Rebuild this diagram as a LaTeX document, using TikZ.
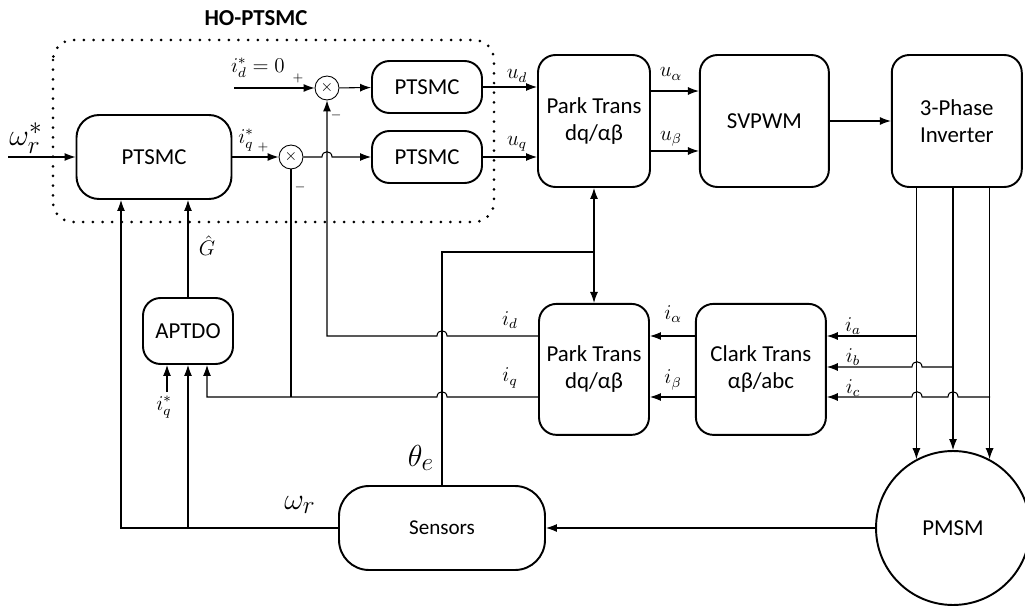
\documentclass[tikz,border=0pt]{standalone}
\usepackage[no-math]{fontspec}
\usepackage{amsmath}
\newfontfamily\boxfont{Carlito}
\usetikzlibrary{positioning,arrows.meta}

\begin{document}
\begin{tikzpicture}[x=0.02cm, y=-0.02cm, line width=0.6pt, >={Latex[length=2.2mm,width=1.6mm]},
        blk/.style={draw, line width=1.1pt, rounded corners=0.35cm, align=center, inner sep=0pt,
            font=\boxfont\fontsize{13}{15.5}\selectfont},
        sum/.style={draw, circle, line width=0.5pt, minimum size=0.48cm, inner sep=0pt, font=\small},
        lbl/.style={font=\fontsize{11.5}{13}\selectfont},
        sgn/.style={font=\scriptsize},
        big/.style={font=\fontsize{19}{21}\selectfont}]
    \useasboundingbox (0,0) rectangle (1025,608);
    \draw[line width=1.7pt, dash pattern=on 0pt off 5.5pt, line cap=round, rounded corners=0.4cm] (53,40) rectangle (494,222);
    \node[font=\boxfont\bfseries\fontsize{13}{15}\selectfont] (ho) at (256,18) {HO-PTSMC};

    \node[blk, minimum width=3.1cm, minimum height=1.68cm, rounded corners=0.45cm] (spd) at (154,157) {PTSMC};
    \node[blk, minimum width=2.2cm, minimum height=1.04cm] (cd) at (427,87) {PTSMC};
    \node[blk, minimum width=2.2cm, minimum height=1.04cm] (cq) at (427,157) {PTSMC};
    \node[sum] (sd) at (327,88) {$\times$};
    \node[sum] (sq) at (291,157) {$\times$};
    \node[blk, minimum width=2.24cm, minimum height=2.64cm] (parka) at (594,121) {Park Trans\\dq/αβ};
    \node[blk, minimum width=2.58cm, minimum height=2.64cm, right=0.96cm of parka] (svpwm) {SVPWM};
    \node[blk, minimum width=2.6cm, minimum height=2.64cm, right=1.22cm of svpwm] (inv) {3-Phase\\Inverter};
    \node[blk, minimum width=2.2cm, minimum height=2.62cm, below=2.3cm of parka] (parkb) {Park Trans\\dq/αβ};
    \node[blk, minimum width=2.6cm, minimum height=2.62cm, right=0.9cm of parkb] (clark) {Clark Trans\\αβ/abc};
    \node[blk, minimum width=1.8cm, minimum height=1.32cm] (obs) at (188,331) {APTDO};
    \node[blk, minimum width=4.12cm, minimum height=1.68cm, rounded corners=0.6cm,
        font=\boxfont\fontsize{12}{14}\selectfont] (sen) at (442,528) {Sensors};
    \node[blk, circle, minimum size=3.08cm] (pmsm) at (953,528) {PMSM};

    \coordinate (win) at (8,157);
    \draw[->] (win) -- (spd);
    \node[big] (lwref) at (26,138) {$\omega_r^*$};
    \draw[->] (spd) -- (sq);
    \node[lbl] (liq) at (246,140) {$i_q^*$};
    \node[sgn] (pq) at (263,147) {$+$};
    \node[sgn] (mq) at (300,187) {$-$};
    \coordinate (idin) at (234,88);
    \draw[->] (idin) -- (sd);
    \node[lbl] (lid) at (258,68) {$i_d^*=0$};
    \node[sgn] (pd) at (298,78) {$+$};
    \node[sgn] (md) at (336,115) {$-$};
    \draw[->] (sd) -- (cd);
    \draw[->] (sq) -- (322,157) .. controls (322,150) and (332,150) .. (332,157) -- (cq);

    \draw[->] (cd) -- (cd -| parka.west);
    \draw[->] (cq) -- (cq -| parka.west);
    \node[lbl] (lud) at (517,76) {$u_d$};
    \node[lbl] (luq) at (517,144) {$u_q$};
    \draw[->] ([yshift=6mm]parka.east) -- ([yshift=6mm]svpwm.west);
    \draw[->] ([yshift=-6mm]parka.east) -- ([yshift=-6mm]svpwm.west);
    \node[lbl] (lua) at (671,74) {$u_\alpha$};
    \node[lbl] (lub) at (671,139) {$u_\beta$};
    \draw[->] (svpwm) -- (inv);
    \foreach \a in {118,90,62}
        \draw[->] (inv.south -| pmsm.\a) -- (pmsm.\a);

    \coordinate (ta) at (917,336);
    \coordinate (tb) at (953,367);
    \coordinate (tc) at (990,397);
    \draw[->] (ta) -- (ta -| clark.east);
    \draw[->] (tb) -- (922,367) .. controls (922,360) and (912,360) .. (912,367) -- (tb -| clark.east);
    \draw[->] (tc) -- (958,397) .. controls (958,390) and (948,390) .. (948,397)
        -- (922,397) .. controls (922,390) and (912,390) .. (912,397) -- (tc -| clark.east);
    \node[lbl] (lia) at (853,326) {$i_a$};
    \node[lbl] (lib) at (853,357) {$i_b$};
    \node[lbl] (lic) at (853,388) {$i_c$};
    \draw[->] (ta -| clark.west) -- (ta -| parkb.east);
    \draw[->] (tc -| clark.west) -- (tc -| parkb.east);
    \node[lbl] (lial) at (673,314) {$i_\alpha$};
    \node[lbl] (libe) at (673,380) {$i_\beta$};

    \coordinate (oq) at ([xshift=0.38cm]obs.south);
    \coordinate (iqs) at (167,392);
    \draw[->] (ta -| parkb.west) -- (447,336) .. controls (447,329) and (437,329) .. (437,336) -| (sd);
    \draw[->] (tc -| parkb.west) -- (447,397) .. controls (447,390) and (437,390) .. (437,397) -| (oq);
    \draw (sq) -- (sq |- tc);
    \node[lbl] (lidf) at (510,320) {$i_d$};
    \node[lbl] (liqf) at (510,378) {$i_q$};

    \coordinate (th) at (594,252);
    \draw (sen) -- (sen |- th) -- (th);
    \draw[->] (th) -- (parka);
    \draw[->] (th) -- (parkb);
    \node[big] (lth) at (421,458) {$\theta_e$};

    \coordinate (wr) at (121,528);
    \draw[->] (pmsm) -- (sen);
    \draw[->] (sen) -- (wr) -- (wr |- spd.south);
    \draw[->] (obs |- wr) -- (obs);
    \draw[->] (obs) -- (obs |- spd.south);
    \node[lbl] (lg) at (207,246) {$\hat{G}$};
    \draw[->] (iqs) -- (iqs |- obs.south);
    \node[lbl] (liqo) at (164,407) {$i_q^*$};
    \node[big] (lwr) at (300,505) {$\omega_r$};
\end{tikzpicture}
\end{document}
